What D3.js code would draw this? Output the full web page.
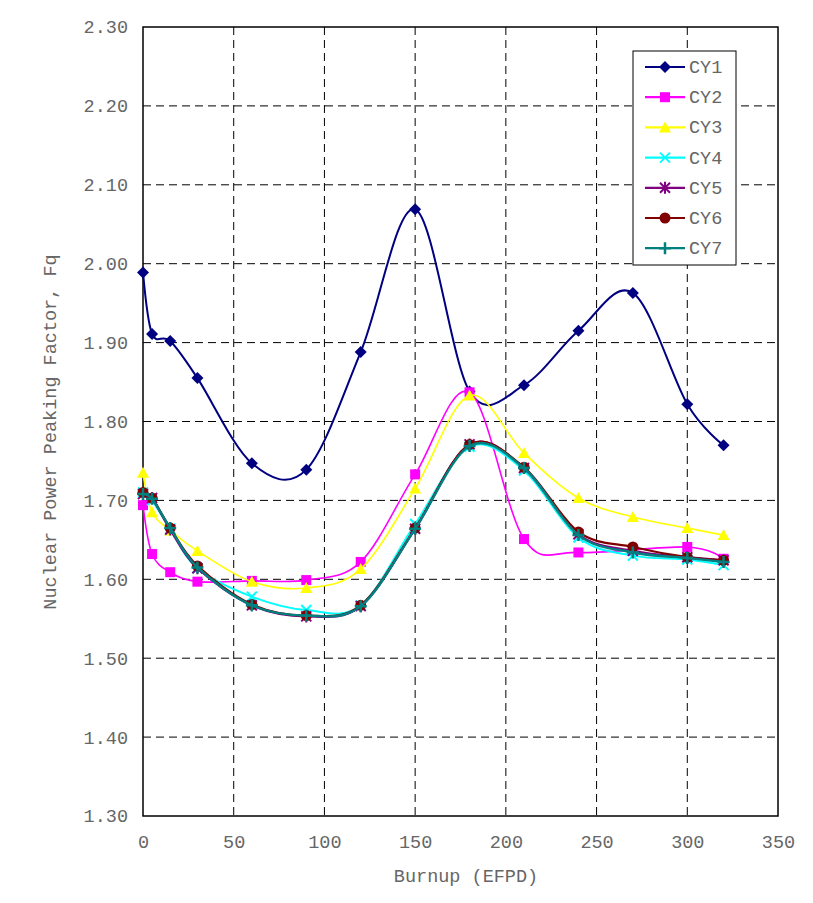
<!DOCTYPE html>
<html><head><meta charset="utf-8">
<script src="https://cdn.jsdelivr.net/npm/d3@7"></script>
<style>body{margin:0;background:#fff}</style>
</head><body>
<svg id="c" width="813" height="903"></svg>
<script>
const burnup = [0, 5, 15, 30, 60, 90, 120, 150, 180, 210, 240, 270, 300, 320];
const burnupCY2 = [0, 5, 15, 30, 60, 90, 120, 150, 180, 210, 240, 300, 320];
const cy1 = [1.989, 1.911, 1.902, 1.855, 1.747, 1.739, 1.888, 2.069, 1.838, 1.846, 1.915, 1.963, 1.822, 1.770];
const cy2 = [1.694, 1.632, 1.609, 1.597, 1.598, 1.599, 1.622, 1.733, 1.837, 1.651, 1.634, 1.641, 1.626];
const cy3 = [1.735, 1.685, 1.662, 1.636, 1.597, 1.589, 1.613, 1.715, 1.833, 1.760, 1.703, 1.679, 1.665, 1.656];
const cy4 = [1.710, 1.700, 1.664, 1.614, 1.578, 1.561, 1.567, 1.670, 1.768, 1.738, 1.653, 1.630, 1.625, 1.618];
const cy5 = [1.708, 1.703, 1.663, 1.614, 1.567, 1.553, 1.566, 1.664, 1.771, 1.741, 1.657, 1.636, 1.628, 1.624];
const cy6 = [1.710, 1.703, 1.665, 1.617, 1.568, 1.554, 1.567, 1.665, 1.771, 1.742, 1.660, 1.641, 1.628, 1.624];
const cy7 = [1.708, 1.702, 1.665, 1.615, 1.567, 1.554, 1.566, 1.664, 1.769, 1.741, 1.656, 1.634, 1.627, 1.622];
const seriesNames = ["CY1", "CY2", "CY3", "CY4", "CY5", "CY6", "CY7"];
const xTicks = [0, 50, 100, 150, 200, 250, 300, 350];
const yTicks = [1.30, 1.40, 1.50, 1.60, 1.70, 1.80, 1.90, 2.00, 2.10, 2.20, 2.30];

const seriesX = [burnup, burnupCY2, burnup, burnup, burnup, burnup, burnup];
const seriesY = [cy1, cy2, cy3, cy4, cy5, cy6, cy7];
const colors = ["#000080", "#ff00ff", "#ffff00", "#00ffff", "#800080", "#800000", "#008080"];
const widths = [2, 1.6, 1.6, 2, 2.2, 2.2, 2.4];
const markers = ["diamond", "square", "triangle", "x", "asterisk", "circle", "plus"];

const L = 143, R = 778, T = 27, B = 816;
const svg = d3.select("#c");
const x = d3.scaleLinear().domain([0, 350]).range([L, R]);
const y = d3.scaleLinear().domain([1.30, 2.30]).range([B, T]);
const font = "'Courier New', 'Nimbus Mono PS', 'FreeMono', Courier, 'Liberation Mono', monospace";
const txt = "#666";
const fs = 18.5;

// grid
svg.append("g").selectAll("line").data(xTicks.filter(d => d > 0 && d < 350)).join("line")
  .attr("x1", d => x(d)).attr("x2", d => x(d)).attr("y1", T).attr("y2", B)
  .attr("stroke", "#000").attr("stroke-width", 1).attr("stroke-dasharray", "8,5");
svg.append("g").selectAll("line").data(yTicks.filter(d => d > 1.30 && d < 2.30)).join("line")
  .attr("y1", d => y(d)).attr("y2", d => y(d)).attr("x1", L).attr("x2", R)
  .attr("stroke", "#000").attr("stroke-width", 1).attr("stroke-dasharray", "8,5");
svg.append("rect").attr("x", L).attr("y", T).attr("width", R - L).attr("height", B - T)
  .attr("fill", "none").attr("stroke", "#000").attr("stroke-width", 1.5);

// axes labels
const xa = svg.append("g").attr("transform", `translate(0,${B})`)
  .call(d3.axisBottom(x).tickValues(xTicks).tickSize(0).tickPadding(19).tickFormat(d3.format("d")));
xa.select(".domain").remove();
xa.selectAll("text").attr("font-family", font).attr("font-size", fs).attr("fill", txt);
const ya = svg.append("g").attr("transform", `translate(${L},0)`)
  .call(d3.axisLeft(y).tickValues(yTicks).tickSize(0).tickPadding(15).tickFormat(d3.format(".2f")));
ya.select(".domain").remove();
ya.selectAll("text").attr("font-family", font).attr("font-size", fs).attr("fill", txt);

svg.append("text").attr("x", 466).attr("y", 882).attr("text-anchor", "middle")
  .attr("font-family", font).attr("font-size", fs).attr("fill", txt).text("Burnup (EFPD)");
svg.append("text").attr("transform", `translate(56,432) rotate(-90)`).attr("text-anchor", "middle")
  .attr("font-family", font).attr("font-size", fs).attr("fill", txt).text("Nuclear Power Peaking Factor, Fq");

function drawMarker(g, type, cx, cy, color) {
  const s = 5;
  if (type === "diamond") {
    g.append("path").attr("d", `M${cx},${cy - s - 1}L${cx + s + 1},${cy}L${cx},${cy + s + 1}L${cx - s - 1},${cy}Z`).attr("fill", color);
  } else if (type === "square") {
    g.append("rect").attr("x", cx - s).attr("y", cy - s).attr("width", 2 * s).attr("height", 2 * s).attr("fill", color);
  } else if (type === "triangle") {
    g.append("path").attr("d", `M${cx},${cy - s - 1}L${cx + s + 1},${cy + s}L${cx - s - 1},${cy + s}Z`).attr("fill", color);
  } else if (type === "x") {
    g.append("path").attr("d", `M${cx - s},${cy - s}L${cx + s},${cy + s}M${cx - s},${cy + s}L${cx + s},${cy - s}`)
      .attr("stroke", color).attr("stroke-width", 2);
  } else if (type === "asterisk") {
    g.append("path").attr("d", `M${cx - s},${cy - s}L${cx + s},${cy + s}M${cx - s},${cy + s}L${cx + s},${cy - s}M${cx},${cy - s - 1}L${cx},${cy + s + 1}`)
      .attr("stroke", color).attr("stroke-width", 2);
  } else if (type === "circle") {
    g.append("circle").attr("cx", cx).attr("cy", cy).attr("r", s + 0.5).attr("fill", color);
  } else if (type === "plus") {
    g.append("path").attr("d", `M${cx - s - 1},${cy}L${cx + s + 1},${cy}M${cx},${cy - s - 1}L${cx},${cy + s + 1}`)
      .attr("stroke", color).attr("stroke-width", 2.5);
  }
}

const line = d3.line().x(d => x(d[0])).y(d => y(d[1])).curve(d3.curveCardinal.tension(0));
const order = [0, 1, 2, 3, 4, 5, 6];
order.forEach(i => {
  const pts = seriesX[i].map((v, j) => [v, seriesY[i][j]]);
  const g = svg.append("g");
  g.append("path").attr("d", line(pts)).attr("fill", "none").attr("stroke", colors[i]).attr("stroke-width", widths[i]);
  pts.forEach(p => drawMarker(g, markers[i], x(p[0]), y(p[1]), colors[i]));
});

// legend
const lg = svg.append("g");
lg.append("rect").attr("x", 633).attr("y", 51).attr("width", 103).attr("height", 214)
  .attr("fill", "#fff").attr("stroke", "#000").attr("stroke-width", 1);
seriesNames.forEach((n, i) => {
  const ly = 67 + i * 30.2;
  lg.append("line").attr("x1", 645).attr("x2", 685).attr("y1", ly).attr("y2", ly)
    .attr("stroke", colors[i]).attr("stroke-width", 2.2);
  drawMarker(lg, markers[i], 665, ly, colors[i]);
  lg.append("text").attr("x", 689).attr("y", ly + 6).attr("font-family", font).attr("font-size", fs)
    .attr("fill", txt).text(n);
});
</script>
</body></html>
